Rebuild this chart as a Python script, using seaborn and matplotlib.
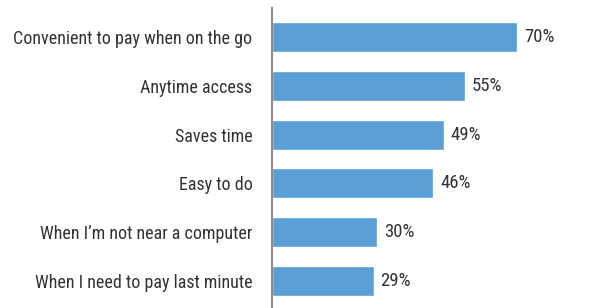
import pandas as pd
import matplotlib.pyplot as plt
import seaborn as sns

# =============================================
# Data
reasons = ['Convenient to pay when on the go', 'Anytime access', 'Saves time',
           'Easy to do', 'When I\u2019m not near a computer', 'When I need to pay last minute']
shares = [70, 55, 49, 46, 30, 29]

barColor = '#599fd5'
labelFontSize = 13

sns.set_style("white")
plt.rcParams['font.family'] = ['Liberation Sans Narrow', 'Roboto Condensed', 'Roboto', 'DejaVu Sans']

df = pd.DataFrame({'reason': reasons, 'share': shares})

fig = plt.figure(figsize=(6.04, 3.08), dpi=100)
ax = fig.add_axes([272 / 604, 0, 332 / 604, 300 / 308])

sns.barplot(data=df, x='share', y='reason', orient='h', color=barColor,
            order=reasons, width=0.615, saturation=1, ax=ax)

ax.set_xlim(0, 332 / 3.5)
ax.set_ylim(5.553, -0.594)
ax.set(xlabel=None, ylabel=None)
ax.set_xticks([])

for s in ['top', 'right', 'bottom']:
    ax.spines[s].set_visible(False)
ax.spines['left'].set_color('#8c8c8c')
ax.spines['left'].set_linewidth(1.5)
ax.tick_params(axis='y', length=0, pad=14, labelsize=labelFontSize, labelcolor='#333333')

# value labels at bar ends
for i, v in enumerate(shares):
    ax.annotate('{}%'.format(v), (v, i), xytext=(5, 0), textcoords='offset points',
                va='center', ha='left', fontsize=labelFontSize + 0.5, color='#333333')

plt.savefig('out.png', dpi=100)
